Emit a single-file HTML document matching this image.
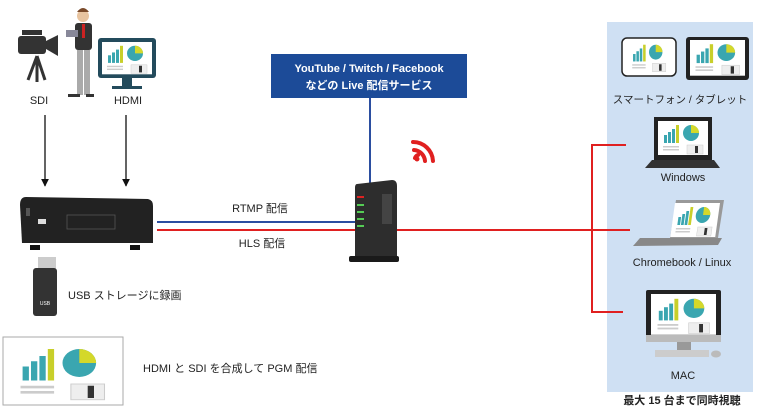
<!DOCTYPE html>
<html><head><meta charset="utf-8"><style>
html,body{margin:0;padding:0;background:#fff;width:760px;height:410px;overflow:hidden}
svg{display:block}
text{font-family:"Liberation Sans","Noto Sans CJK JP",sans-serif;fill:#222}
</style></head><body>
<svg width="760" height="410" viewBox="0 0 760 410" xmlns="http://www.w3.org/2000/svg">
<defs>
<g id="scr">
  <rect x="0" y="0" width="50" height="34" fill="#fff"/>
  <rect x="6" y="14" width="3" height="8" fill="#3aa6b0"/>
  <rect x="10" y="11" width="3" height="11" fill="#3aa6b0"/>
  <rect x="14" y="8" width="3" height="14" fill="#3aa6b0"/>
  <rect x="18" y="4" width="3" height="18" fill="#c8cf2a"/>
  <circle cx="33" cy="12" r="8" fill="#3aa6b0"/>
  <path d="M33 12 L33 4 A8 8 0 0 1 41 12 Z" fill="#d4d82a"/>
  <rect x="5" y="25" width="16" height="1.5" fill="#ccc"/>
  <rect x="5" y="28" width="16" height="1.5" fill="#ccc"/>
  <rect x="29" y="24" width="16" height="9" fill="#eee" stroke="#ccc" stroke-width=".5"/>
  <rect x="37" y="25" width="3" height="7" fill="#333"/>
</g>
<marker id="ah" viewBox="0 0 10 10" refX="9" refY="5" markerWidth="6" markerHeight="6" orient="auto"><path d="M0 0 L10 5 L0 10 Z" fill="#111"/></marker>
</defs>

<!-- right panel -->
<rect x="607" y="22" width="146" height="370" fill="#cfe0f3"/>

<!-- lines -->
<line x1="370" y1="98" x2="370" y2="185" stroke="#2b4ea0" stroke-width="2"/>
<line x1="157" y1="222" x2="355" y2="222" stroke="#2b4ea0" stroke-width="2"/>
<line x1="157" y1="230" x2="592" y2="230" stroke="#e02020" stroke-width="2"/>
<polyline points="626,145 592,145 592,312 623,312" fill="none" stroke="#e02020" stroke-width="2"/>
<line x1="592" y1="230" x2="630" y2="230" stroke="#e02020" stroke-width="2"/>

<!-- service box -->
<rect x="271" y="54" width="196" height="44" fill="#1c4b98"/>
<text x="369" y="72" text-anchor="middle" font-size="11" font-weight="bold" style="fill:#fff">YouTube / Twitch / Facebook</text>
<text x="369" y="89" text-anchor="middle" font-size="11" font-weight="bold" style="fill:#fff">などの Live 配信サービス</text>

<!-- wifi -->
<g fill="none" stroke="#e02020" stroke-width="4" stroke-linecap="round">
<path d="M415 158 A5 5 0 0 1 418 155"/>
<path d="M414 150 A12 12 0 0 1 425 161"/>
<path d="M413 142 A20 20 0 0 1 433 161"/>
</g>
<circle cx="417" cy="159" r="2.5" fill="#e02020"/>

<!-- router -->
<path d="M357 184 L392 180 Q397 180 397 186 L397 258 L355 258 L355 188 Q355 184 357 184Z" fill="#2d2d2d"/>
<rect x="349" y="256" width="50" height="6" rx="2" fill="#1a1a1a"/>
<rect x="357" y="196" width="7" height="2" fill="#d22"/>
<rect x="357" y="204" width="7" height="2" fill="#5c5"/>
<rect x="357" y="211" width="7" height="2" fill="#5c5"/>
<rect x="357" y="218" width="7" height="2" fill="#5c5"/>
<rect x="357" y="225" width="7" height="2" fill="#5c5"/>
<rect x="382" y="194" width="10" height="30" fill="#444"/>

<text x="260" y="212" text-anchor="middle" font-size="11">RTMP 配信</text>
<text x="262" y="247" text-anchor="middle" font-size="11">HLS 配信</text>

<!-- camera -->
<rect x="18" y="36" width="28" height="18" rx="3" fill="#333"/>
<path d="M46 41 L58 35 L58 56 L46 49Z" fill="#333"/>
<rect x="22" y="30" width="20" height="5" fill="#333"/>
<line x1="37" y1="56" x2="28" y2="80" stroke="#333" stroke-width="3"/>
<line x1="37" y1="56" x2="45" y2="80" stroke="#333" stroke-width="3"/>
<line x1="37" y1="56" x2="37" y2="82" stroke="#333" stroke-width="3"/>
<text x="39" y="104" text-anchor="middle" font-size="11">SDI</text>

<!-- person -->
<circle cx="83" cy="16" r="6" fill="#e8c4a0"/>
<path d="M77 12 Q83 4 89 12Z" fill="#7a4a2a"/>
<rect x="75" y="23" width="17" height="27" rx="3" fill="#333"/>
<rect x="82" y="24" width="3" height="14" fill="#c22"/>
<rect x="66" y="30" width="12" height="7" fill="#889"/>
<rect x="77" y="50" width="6" height="45" fill="#aaa"/>
<rect x="84" y="50" width="6" height="45" fill="#aaa"/>
<rect x="68" y="94" width="12" height="3" fill="#333"/>
<rect x="86" y="94" width="8" height="3" fill="#333"/>

<!-- monitor -->
<rect x="98" y="38" width="58" height="40" rx="3" fill="#234b5c"/>
<g transform="translate(102,42) scale(1,0.95)"><use href="#scr"/></g>
<rect x="122" y="78" width="10" height="10" fill="#234b5c"/>
<rect x="112" y="86" width="30" height="3" fill="#234b5c"/>
<text x="128" y="104" text-anchor="middle" font-size="11">HDMI</text>

<line x1="45" y1="115" x2="45" y2="186" stroke="#111" stroke-width="1.3" marker-end="url(#ah)"/>
<line x1="126" y1="115" x2="126" y2="186" stroke="#111" stroke-width="1.3" marker-end="url(#ah)"/>

<!-- encoder -->
<path d="M26 197 L148 199 Q153 200 153 206 L153 243 L22 243 L20 205 Q20 197 26 197Z" fill="#222"/>
<rect x="30" y="245" width="10" height="5" fill="#111"/>
<rect x="130" y="245" width="10" height="5" fill="#111"/>
<rect x="67" y="215" width="48" height="14" fill="none" stroke="#555" stroke-width=".8"/>
<rect x="38" y="219" width="8" height="5" fill="#ddd"/>
<rect x="26" y="208" width="4" height="8" fill="#555"/>

<!-- usb -->
<rect x="38" y="257" width="18" height="12" fill="#ccc"/>
<rect x="33" y="268" width="24" height="48" rx="3" fill="#333"/>
<text x="45" y="305" text-anchor="middle" font-size="5" style="fill:#fff">USB</text>
<text x="68" y="299" font-size="11">USB ストレージに録画</text>

<!-- composite -->
<rect x="3" y="337" width="120" height="68" fill="#fff" stroke="#aaa"/>
<g transform="translate(10,342) scale(2.1,1.75)"><use href="#scr"/></g>
<text x="143" y="372" font-size="11">HDMI と SDI を合成して PGM 配信</text>

<!-- phone & tablet -->
<rect x="622" y="38" width="54" height="38" rx="5" fill="#fff" stroke="#222" stroke-width="1.5"/>
<g transform="translate(628,41) scale(.84,.93)"><use href="#scr"/></g>
<rect x="686" y="37" width="63" height="43" rx="3" fill="#222"/>
<g transform="translate(690,40) scale(1.1,1.05)"><use href="#scr"/></g>
<text x="680" y="103" text-anchor="middle" font-size="10.5">スマートフォン / タブレット</text>

<!-- windows laptop -->
<rect x="654" y="117" width="58" height="43" fill="#222"/>
<g transform="translate(658,121) scale(1,1)"><use href="#scr"/></g>
<path d="M652 160 L714 160 L720 168 L645 168Z" fill="#333"/>
<text x="683" y="181" text-anchor="middle" font-size="11">Windows</text>

<!-- chromebook -->
<path d="M676 200 L724 200 L718 238 L670 238Z" fill="#999"/>
<g transform="translate(675,203) skewX(-8) scale(.9,1)"><use href="#scr"/></g>
<path d="M640 238 L722 238 L718 245 L633 246Z" fill="#888"/>
<text x="682" y="266" text-anchor="middle" font-size="11">Chromebook / Linux</text>

<!-- mac -->
<rect x="646" y="290" width="75" height="52" rx="2" fill="#222"/>
<g transform="translate(651,294) scale(1.3,1.2)"><use href="#scr"/></g>
<rect x="646" y="335" width="75" height="7" fill="#bbb"/>
<rect x="677" y="342" width="14" height="10" fill="#999"/>
<rect x="655" y="350" width="54" height="7" fill="#ccc"/>
<ellipse cx="716" cy="354" rx="5" ry="3.5" fill="#bbb"/>
<text x="683" y="379" text-anchor="middle" font-size="11">MAC</text>

<text x="682" y="404" text-anchor="middle" font-size="11" font-weight="bold">最大 15 台まで同時視聴</text>
</svg>
</body></html>
